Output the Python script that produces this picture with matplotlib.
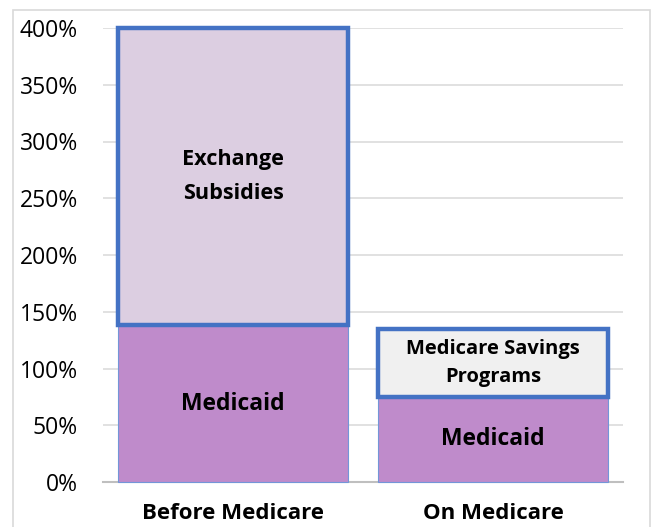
import matplotlib
matplotlib.use("Agg")
import matplotlib.pyplot as plt
from matplotlib.patches import Rectangle

categories = ["Before Medicare", "On Medicare"]
medicaid = [138, 75]
upper_labels = ["Exchange\nSubsidies", "Medicare Savings\nPrograms"]
upper_top = [400, 135]
yticks = [0, 50, 100, 150, 200, 250, 300, 350, 400]
ytick_labels = [f"{v}%" for v in yticks]

plt.rcParams['font.family'] = ['Open Sans', 'DejaVu Sans']

W, H = 654, 527
fig = plt.figure(figsize=(W / 100, H / 100), dpi=100)
fig.patch.set_facecolor("white")

# outer chart border
fig.patches.append(Rectangle((12.7 / W, -0.05), (650 - 12.7) / W, 1.05 - 10 / H,
                             transform=fig.transFigure, fill=False,
                             edgecolor="#D9D9D9", linewidth=1.2))

ax = fig.add_axes([103 / W, 1 - 482 / H, (623 - 103) / W, 454 / H])
x = list(range(len(categories)))
bw = 0.885
blue = "#4472C4"
med_color = "#BF8BCB"
upper_colors = ["#DCCEE1", "#F0F0F0"]

ax.bar(x, medicaid, width=bw, color=med_color, edgecolor="#7396D8",
       linewidth=0.8, zorder=2, clip_on=False)
heights = [t - m for t, m in zip(upper_top, medicaid)]
for i in x:
    ax.bar(i, heights[i], bottom=medicaid[i], width=bw, color=upper_colors[i],
           edgecolor=blue, linewidth=3.2, zorder=3, clip_on=False)

# labels
for i in x:
    ax.text(i, medicaid[i] / 2, "Medicaid", ha="center", va="center",
            fontsize=16.5, fontweight="bold", color="black", zorder=5)
ls = [1.85, 1.5]
fs = [15.6, 14.5]
for i in x:
    ax.text(i, (medicaid[i] + upper_top[i]) / 2, upper_labels[i], ha="center",
            va="center", fontsize=fs[i], fontweight="bold",
            color="black", linespacing=ls[i], zorder=5)

ax.set_xlim(-0.5, 1.5)
ax.set_ylim(0, 400)
ax.set_yticks(yticks)
ax.set_yticklabels(ytick_labels, fontsize=16.5)
ax.set_xticks(x)
ax.set_xticklabels(categories, fontsize=16, fontweight="bold")
ax.tick_params(axis="y", length=0, pad=18)
ax.tick_params(axis="x", length=0, pad=15)
ax.yaxis.grid(True, color="#D9D9D9", linewidth=1.1, zorder=0)
ax.set_axisbelow(True)
for s in ["top", "right", "left"]:
    ax.spines[s].set_visible(False)
ax.spines["bottom"].set_color("#BFBFBF")
ax.spines["bottom"].set_linewidth(1.5)
ax.spines["bottom"].set_zorder(1)

fig.savefig("out.png", dpi=100)
